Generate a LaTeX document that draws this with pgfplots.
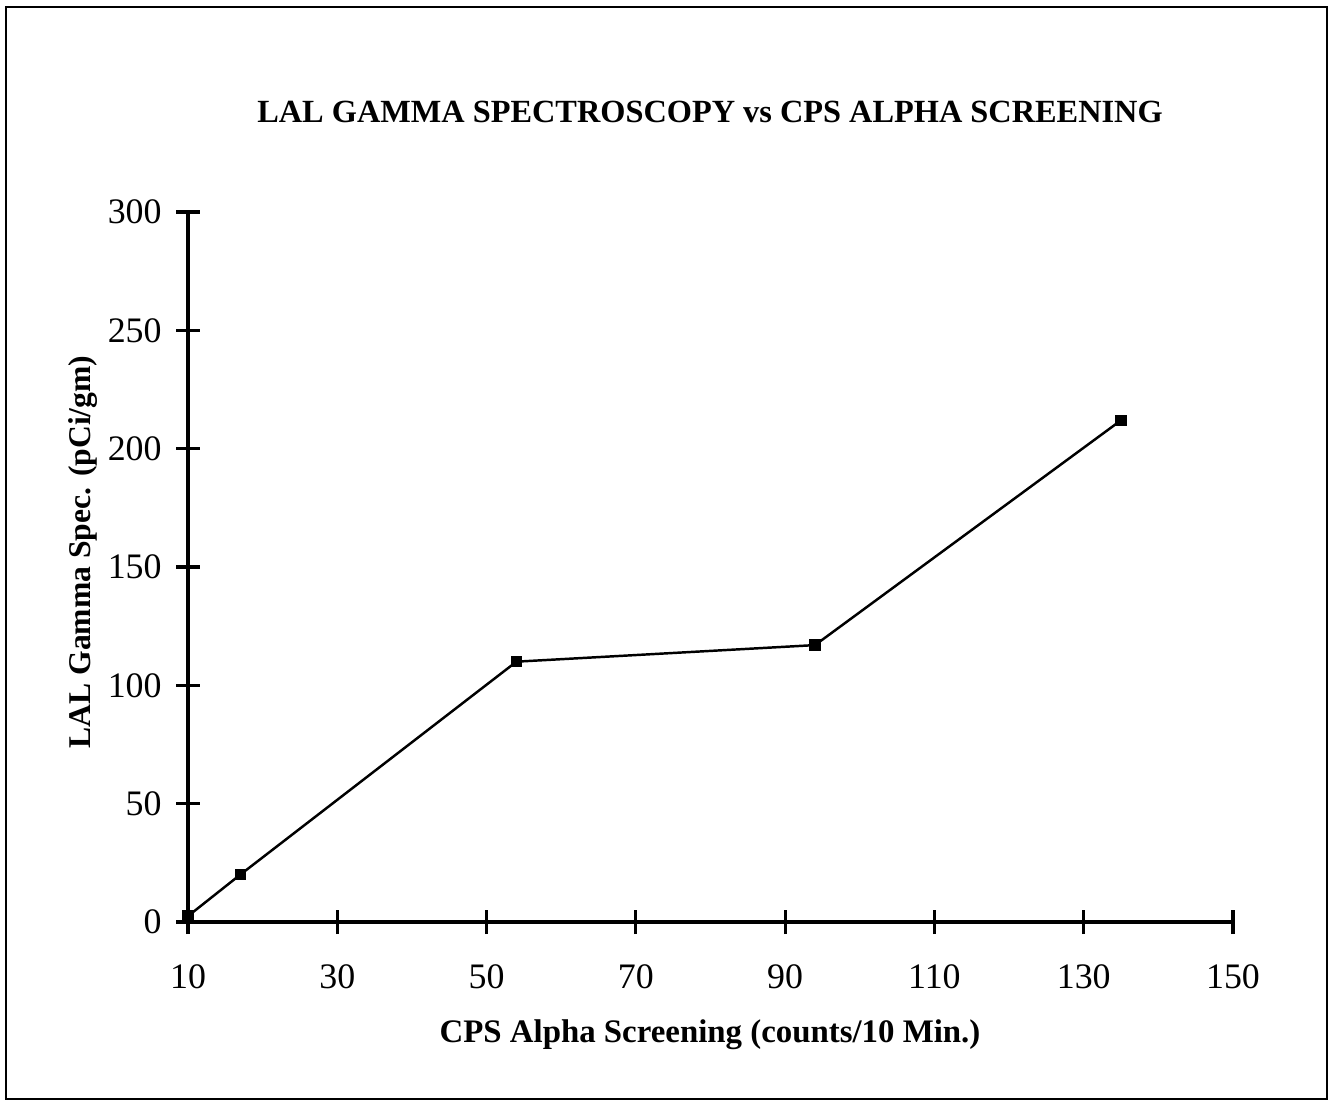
\documentclass[border=0pt]{standalone}
\usepackage{pgfplots}
\pgfplotsset{compat=1.18}
\usepackage{fontspec}
\setmainfont{Liberation Serif}
\begin{document}
\begin{tikzpicture}[x=1cm,y=1cm]
\useasboundingbox (0,0) rectangle (13.31,11.02);
\draw[line width=0.6pt] (0.06,0.03) rectangle (13.27,10.95);
\begin{axis}[
  at={(1.88cm,1.80cm)}, anchor=origin,
  scale only axis, width=10.45cm, height=7.10cm,
  xmin=10, xmax=150, ymin=0, ymax=300,
  axis x line=bottom, axis y line=left,
  axis line style={-, line width=0.9pt},
  xtick={10,30,...,150}, ytick={0,50,...,300},
  tick align=center, major tick length=0.24cm,
  tick style={line width=0.9pt, black},
  /pgf/number format/assume math mode=true,
  ticklabel style={font=\fontsize{10.2}{12}\selectfont},
  xticklabel style={yshift=-0.18cm},
  yticklabel style={xshift=-0.02cm},
  clip=false,
]
\addplot[black, line width=0.7pt, mark=square*, mark size=0.045cm] coordinates {
(10,2.5) (17,20) (54,110) (94,117) (135,212)
};
\end{axis}
\node[font=\bfseries\fontsize{9.2}{11}\selectfont] at (7.10,9.90) {LAL GAMMA SPECTROSCOPY vs CPS ALPHA SCREENING};
\node[font=\bfseries\fontsize{9.35}{11}\selectfont] at (7.10,0.67) {CPS Alpha Screening (counts/10 Min.)};
\node[font=\bfseries\fontsize{9.0}{11}\selectfont, rotate=90] at (0.83,5.50) {LAL Gamma Spec. (pCi/gm)};
\end{tikzpicture}
\end{document}
